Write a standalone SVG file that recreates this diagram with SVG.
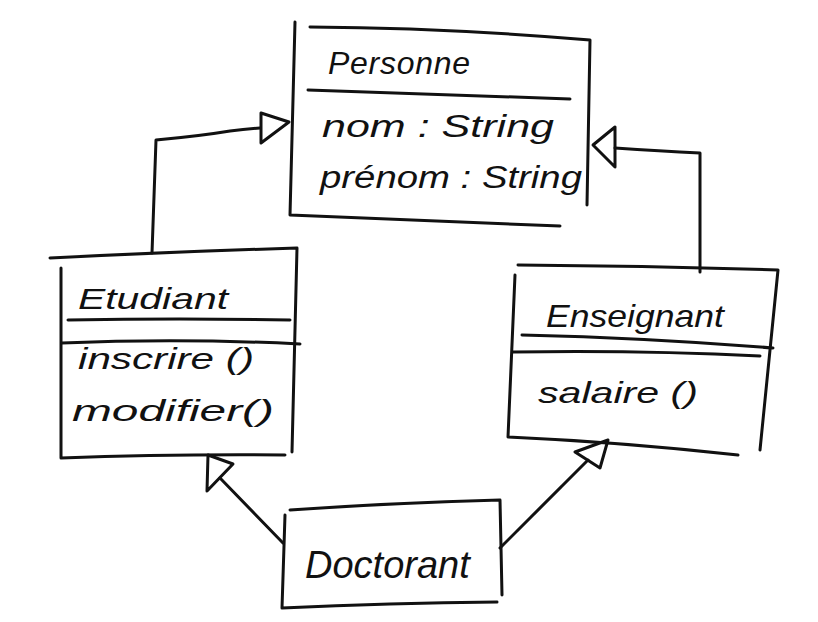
<svg xmlns="http://www.w3.org/2000/svg" width="818" height="622" viewBox="0 0 818 622">
<style>
.s{fill:none;stroke:#111;stroke-width:3;stroke-linecap:round;stroke-linejoin:round}
.t{font-family:"Liberation Sans",Arial,sans-serif;font-style:italic;fill:#111}
</style>
<rect width="818" height="622" fill="#fff"/>
<g id="connectors">
<path class="s" d="M152,253 L156,140 Q200,136 230,131 Q245,129 260,128"/>
<path class="s" d="M261,113 L261,143 L289,122 Z"/>
<path class="s" d="M615,148 Q660,151 700,153 L700,272"/>
<path class="s" d="M593,145 L615,127 L615,167 Z"/>
<path class="s" d="M283,543 L220,478"/>
<path class="s" d="M208,455 L207,491 L233,464 Z"/>
<path class="s" d="M500,548 L588,460"/>
<path class="s" d="M608,440 L575,452 L600,468 Z"/>
</g>
<g id="personne">
<path class="s" d="M295,22 L290,215 Q420,220 560,226"/>
<path class="s" d="M310,27 Q450,28 590,40 L587,205"/>
<path class="s" d="M308,90 Q440,94 570,99"/>
<text class="t" x="328" y="74" font-size="32" textLength="142" lengthAdjust="spacing">Personne</text>
<text class="t" x="322" y="137" font-size="31" textLength="232" lengthAdjust="spacingAndGlyphs">nom : String</text>
<text class="t" x="320" y="188" font-size="31" textLength="262" lengthAdjust="spacingAndGlyphs">prénom : String</text>
</g>
<g id="etudiant">
<path class="s" d="M50,258 Q170,252 297,248 L292,452"/>
<path class="s" d="M61,268 L61,458 Q170,454 285,455"/>
<path class="s" d="M68,320 Q180,318 290,320"/>
<path class="s" d="M62,343 Q180,338 300,344"/>
<text class="t" x="78" y="309" font-size="29" textLength="150" lengthAdjust="spacingAndGlyphs">Etudiant</text>
<text class="t" x="78" y="369" font-size="29" textLength="176" lengthAdjust="spacingAndGlyphs">inscrire ()</text>
<text class="t" x="72" y="421" font-size="29" textLength="202" lengthAdjust="spacingAndGlyphs">modifier()</text>
</g>
<g id="enseignant">
<path class="s" d="M518,265 Q650,266 778,270 L760,450"/>
<path class="s" d="M515,275 L508,437 Q620,442 738,455"/>
<path class="s" d="M522,335 Q650,338 773,348"/>
<path class="s" d="M513,352 Q640,350 760,356"/>
<text class="t" x="546" y="327" font-size="32" textLength="178" lengthAdjust="spacingAndGlyphs">Enseignant</text>
<text class="t" x="538" y="403" font-size="30" textLength="160" lengthAdjust="spacingAndGlyphs">salaire ()</text>
</g>
<g id="doctorant">
<path class="s" d="M290,510 Q390,503 500,500 L502,595"/>
<path class="s" d="M285,515 L282,608 Q390,603 497,602"/>
<text class="t" x="305" y="578" font-size="38">Doctorant</text>
</g>
</svg>
